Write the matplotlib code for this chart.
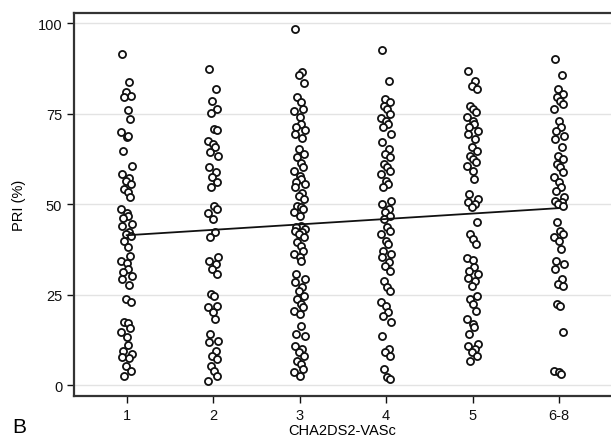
import numpy as np
import matplotlib as mpl
import matplotlib.pyplot as plt

mpl.rcParams.update({
    "font.family": ["Liberation Sans", "DejaVu Sans"], "font.size": 10,
})

# PRI (%) per CHA2DS2-VASc group
categories = ["1", "2", "3", "4", "5", "6-8"]
pri_1 = [91.4, 83.8, 81.0, 79.9, 79.5, 76.0, 73.5, 69.9, 68.6, 68.9, 64.6, 60.6,
         58.3, 57.2, 56.4, 55.5, 54.1, 53.4, 52.0, 48.6, 47.5, 46.7, 46.1, 44.5,
         44.0, 42.3, 41.7, 41.2, 39.8, 38.1, 35.7, 34.3, 33.7, 32.0, 31.2, 30.2,
         29.3, 27.6, 23.8, 22.9, 17.4, 17.1, 15.7, 14.6, 13.2, 11.1, 9.5, 8.6,
         7.7, 7.5, 5.4, 4.0, 2.6]
pri_2 = [87.3, 81.8, 78.5, 76.2, 75.1, 70.7, 70.5, 67.5, 66.6, 65.7, 64.3, 63.3,
         60.2, 58.8, 57.4, 56.0, 54.6, 49.5, 48.6, 47.5, 45.9, 42.2, 40.8, 35.3,
         34.3, 33.4, 32.0, 30.7, 25.1, 24.7, 21.8, 21.5, 20.1, 18.2, 14.1, 12.2,
         11.9, 9.5, 8.1, 7.2, 5.4, 4.0, 2.6, 1.2]
pri_3 = [98.3, 86.6, 85.6, 83.4, 79.5, 78.1, 76.2, 75.8, 74.0, 72.1, 71.2, 70.4,
         69.3, 68.4, 65.2, 63.8, 62.9, 61.5, 60.2, 59.1, 57.7, 56.9, 56.2, 55.5,
         54.6, 53.2, 52.2, 51.4, 49.5, 49.1, 48.6, 47.8, 46.7, 44.0, 43.6, 43.1,
         42.5, 42.2, 41.7, 40.8, 39.5, 38.4, 37.0, 36.2, 35.3, 34.3, 30.7, 29.3,
         28.4, 27.0, 26.0, 24.6, 23.8, 22.4, 21.5, 20.4, 19.6, 16.3, 14.1, 13.5,
         10.8, 9.9, 9.1, 8.0, 6.6, 5.8, 4.4, 3.6, 2.6]
pri_4 = [92.6, 84.1, 79.0, 78.1, 77.1, 76.2, 74.9, 73.9, 73.0, 72.1, 71.2, 69.3,
         67.1, 65.2, 63.8, 62.9, 61.0, 60.2, 59.1, 58.3, 56.4, 55.5, 54.6, 50.9,
         50.0, 48.6, 47.8, 46.7, 45.9, 43.6, 42.5, 41.7, 39.8, 39.0, 37.0, 36.2,
         35.3, 34.0, 32.9, 31.5, 28.7, 27.0, 26.0, 22.9, 21.8, 20.1, 19.1, 17.4,
         13.5, 9.9, 9.1, 8.0, 4.4, 2.2, 1.7]
pri_5 = [86.8, 84.1, 82.7, 81.8, 77.1, 76.2, 75.4, 74.0, 73.0, 72.1, 71.2, 70.2,
         69.3, 68.0, 65.7, 64.6, 63.3, 62.4, 61.6, 60.5, 59.1, 56.9, 52.8, 51.4,
         50.5, 50.0, 49.1, 45.0, 41.7, 40.3, 39.0, 35.0, 34.6, 32.6, 31.6, 30.7,
         29.7, 28.8, 27.4, 24.6, 23.8, 22.4, 20.5, 18.2, 16.9, 16.0, 14.1, 11.3,
         10.8, 9.9, 9.1, 8.0, 6.6]
pri_6 = [90.2, 85.6, 81.8, 80.4, 79.6, 78.5, 77.6, 76.2, 73.0, 71.2, 70.2, 68.8,
         68.0, 65.7, 63.3, 62.4, 61.0, 60.2, 58.8, 57.4, 56.0, 54.6, 53.7, 51.9,
         50.9, 50.5, 50.0, 49.5, 45.0, 42.5, 41.7, 40.8, 39.8, 37.6, 34.3, 33.4,
         32.0, 29.3, 27.9, 27.4, 22.4, 21.8, 14.6, 3.9, 3.6, 3.0]
groups = [pri_1, pri_2, pri_3, pri_4, pri_5, pri_6]

# linear fit line, value at first and last group
fit_x = [1, 6]
fit_y = [41.4, 48.9]

# small fixed horizontal spread so overlapping points stay visible
spread = [-0.05, 0.03, -0.01, 0.05, -0.03, 0.01, 0.04, -0.06, 0.0, 0.02, -0.04, 0.06]

fig = plt.figure(figsize=(6.11, 4.39), dpi=100)
ax = fig.add_axes([0.121, 0.0957, 0.879, 0.8724])

for i, vals in enumerate(groups):
    xs = [i + 1 + spread[j % len(spread)] for j in range(len(vals))]
    ax.scatter(xs, vals, s=26, facecolors="white", edgecolors="#111111",
               linewidths=1.3, zorder=3)

ax.plot(fit_x, fit_y, color="#111111", linewidth=1.3, zorder=4)

ax.set_xlim(0.39, 6.6)
ax.set_ylim(-3.0, 102.8)
ax.set_xticks(range(1, 7))
ax.set_xticklabels(categories)
ax.set_yticks([0, 25, 50, 75, 100])
ax.grid(axis="y", color="#e3e3e3", linewidth=1.0, zorder=0)
ax.tick_params(direction="out", length=5, width=1.0, labelsize=10.5, colors="#111111")
for s in ["left", "bottom", "top"]:
    ax.spines[s].set_color("#333333")
    ax.spines[s].set_linewidth(1.6)
ax.spines["right"].set_visible(False)

ax.set_ylabel("PRI (%)", fontsize=10.5, labelpad=8)
ax.set_xlabel("CHA2DS2-VASc", fontsize=10.5, labelpad=1)
fig.text(0.02, 0.005, "B", fontsize=15, ha="left", va="bottom")

fig.savefig("out.png", dpi=100)
